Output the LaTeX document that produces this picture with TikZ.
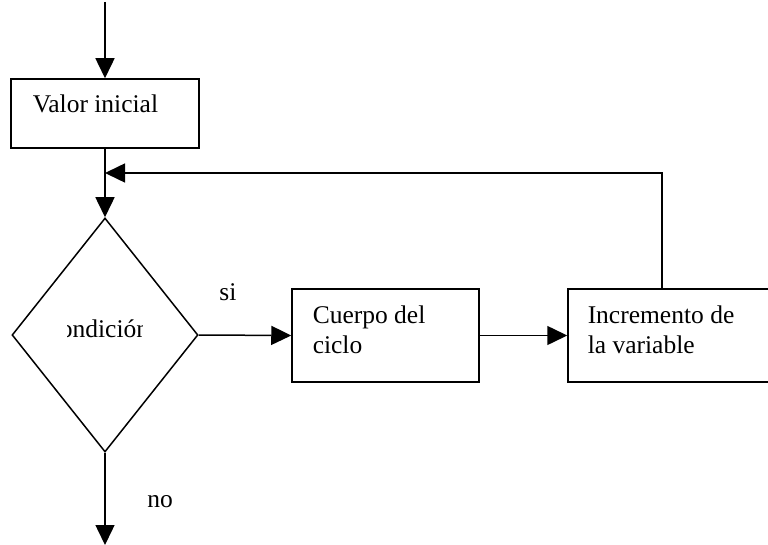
\documentclass[tikz,border=0pt]{standalone}
\usepackage{fontspec}
\setmainfont{Liberation Serif}
\usetikzlibrary{arrows.meta,shapes.geometric}
\begin{document}
\begin{tikzpicture}[x=1pt,y=-1pt,
  line width=1.5pt,
  box/.style={draw,rectangle,inner sep=0pt,line width=1.5pt},
  txt/.style={inner sep=0pt,anchor=base west,font=\fontsize{25.5}{30}\selectfont},
  lbl/.style={inner sep=0pt,font=\fontsize{25.5}{30}\selectfont},
  arr/.style={-{Triangle[length=20pt,width=19pt]},line width=1.5pt}]
\useasboundingbox (0,0) rectangle (768,545);
% boxes
\node[box,minimum width=188pt,minimum height=69pt] (valor) at (105,113.5) {};
\node[box,minimum width=187pt,minimum height=93pt] (cuerpo) at (385.5,335.5) {};
\node[box,minimum width=207pt,minimum height=93pt] (incr) at (671.5,335.5) {};
\node[draw,diamond,shape aspect=0.795,minimum width=186pt,minimum height=234pt,inner sep=0pt,line width=1.5pt] (cond) at (105,335) {};
% texts
\node[txt] (tvalor) at (32,113) {Valor inicial};
\node[txt] (tc1) at (312,323) {Cuerpo del};
\node[txt] (tc2) at (312,353) {ciclo};
\node[txt] (ti1) at (587,323) {Incremento de};
\node[txt] (ti2) at (587,353) {la variable};
\begin{scope}
  \clip (67,310) rectangle (142,360);
  \node[lbl,anchor=base] (tcond) at (96,337) {Condición};
\end{scope}
\node[lbl] (si) at (228,292) {si};
\node[lbl] (no) at (160,502) {no};
% connectors
\coordinate (start) at (105,2);
\coordinate (join) at (105,173);
\coordinate (corner) at (662,173);
\coordinate (end) at (105,545);
\draw[arr] (start) -- (valor.north);
\draw (valor.south) -- (join);
\draw[arr] (join) -- (cond.north);
\draw[arr] (incr.north -| corner) -- (corner) -- (join);
\draw[arr] (cond.east) -- (cuerpo.west);
\draw[arr] (cuerpo.east) -- (incr.west);
\draw[arr] (cond.south) -- (end);
\end{tikzpicture}
\end{document}
